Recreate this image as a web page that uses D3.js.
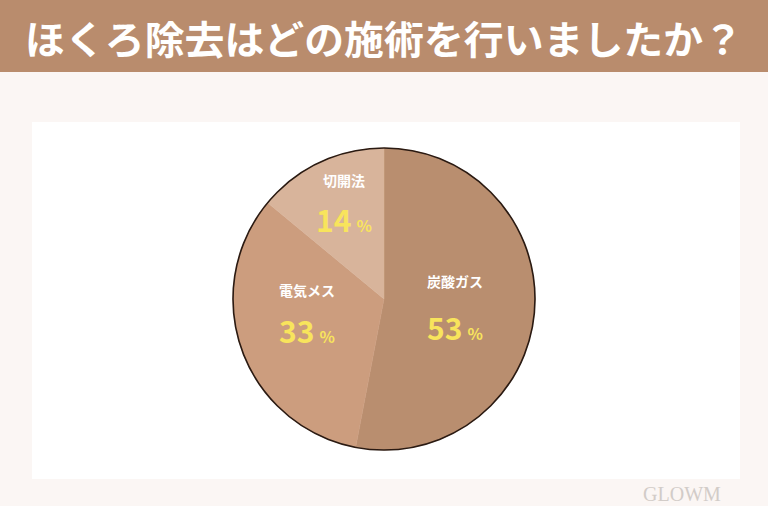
<!DOCTYPE html>
<html><head><meta charset="utf-8">
<script src="https://cdn.jsdelivr.net/npm/d3@7"></script>
<style>html,body{margin:0;padding:0;background:#fbf6f4;}svg{display:block;}</style>
</head><body>
<svg id="c" width="768" height="506"></svg>
<script>
const title = "ほくろ除去はどの施術を行いましたか？";
const categories = ["炭酸ガス", "電気メス", "切開法"];
const values = [53, 33, 14];
const colors = ["#b98e6f", "#cc9d7e", "#d8b49b"];
const labelPos = [[455, 287, 330], [307, 296, 333], [344, 186, 222]];

const svg = d3.select("#c");
svg.append("rect").attr("width", 768).attr("height", 506).attr("fill", "#fbf6f4");
svg.append("rect").attr("x", 0).attr("y", 0).attr("width", 768).attr("height", 72).attr("fill", "#b98c6d");
svg.append("text").attr("x", 384).attr("y", 54).attr("text-anchor", "middle")
  .attr("fill", "#ffffff").attr("font-family", "Noto Sans CJK JP").attr("font-weight", "700")
  .attr("font-size", 39).attr("textLength", 718).attr("lengthAdjust", "spacingAndGlyphs").text(title);
svg.append("rect").attr("x", 32).attr("y", 122).attr("width", 708).attr("height", 357).attr("fill", "#ffffff");

const cx = 384, cy = 299, r = 151;
const pie = d3.pie().sort(null).value(d => d)(values);
const arc = d3.arc().innerRadius(0).outerRadius(r);
const g = svg.append("g").attr("transform", `translate(${cx},${cy})`);
g.selectAll("path.s").data(pie).join("path").attr("class", "s")
  .attr("d", arc).attr("fill", (d, i) => colors[i])
  .attr("stroke", (d, i) => colors[i]).attr("stroke-width", 0.5);
g.append("circle").attr("r", r).attr("fill", "none").attr("stroke", "#2a1a12").attr("stroke-width", 1.6);

const lg = svg.append("g");
categories.forEach((c, i) => {
  const [x, y1, y2] = labelPos[i];
  lg.append("text").attr("x", x).attr("y", y1).attr("text-anchor", "middle")
    .attr("fill", "#ffffff").attr("font-family", "Noto Sans CJK JP").attr("font-weight", "700")
    .attr("font-size", 14).text(c);
  const t = lg.append("text").attr("x", x).attr("y", y2 + 10).attr("text-anchor", "middle")
    .attr("fill", "#f8e45c").attr("font-family", "Noto Sans CJK JP").attr("font-weight", "700");
  t.append("tspan").attr("font-size", 30).text(values[i]);
  t.append("tspan").attr("font-size", 16).attr("dx", 5).text("%");
});

svg.append("text").attr("x", 682).attr("y", 501).attr("text-anchor", "middle")
  .attr("fill", "#d2ccc8").attr("font-family", "Liberation Serif").attr("font-size", 20).text("GLOWM");
</script>
</body></html>
